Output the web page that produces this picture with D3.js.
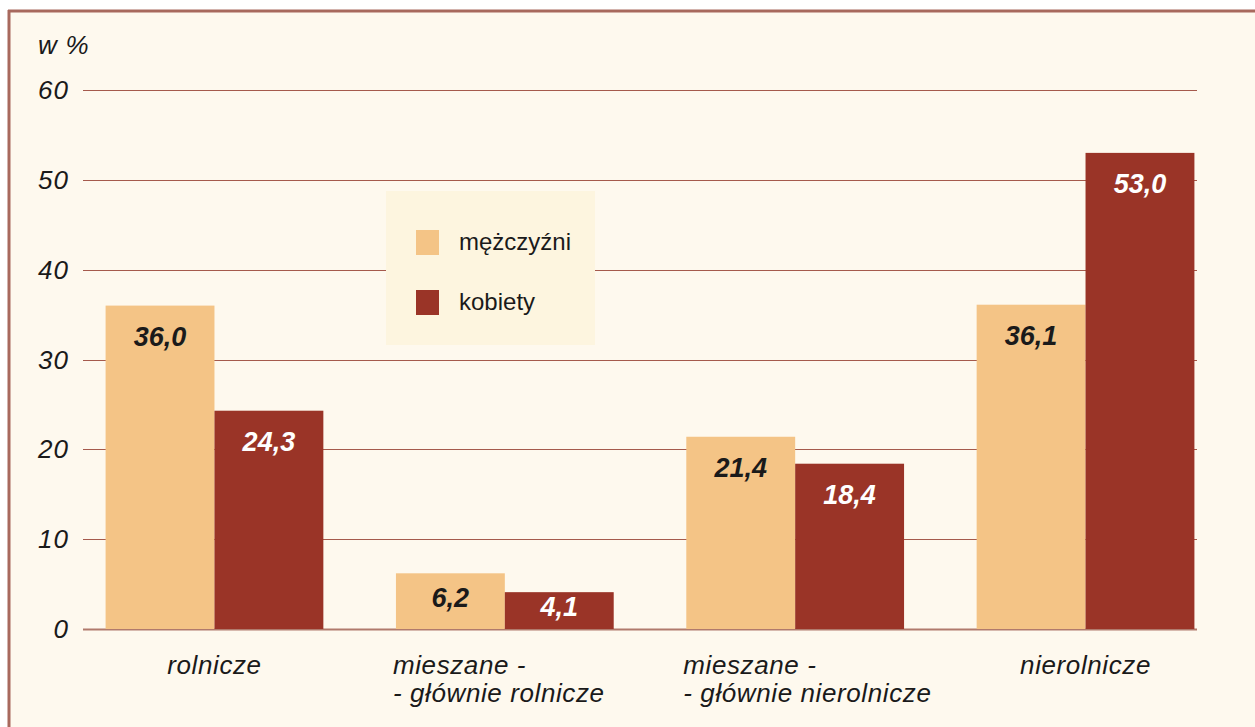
<!DOCTYPE html>
<html><head><meta charset="utf-8">
<script src="https://cdn.jsdelivr.net/npm/d3@7"></script>
<style>body{margin:0;background:#fff;}svg{display:block;font-family:"Liberation Sans",Arial,sans-serif;}</style>
</head><body><svg id="c" width="1255" height="727"></svg>
<script>
const categories = [["rolnicze"], ["mieszane -", "- głównie rolnicze"], ["mieszane -", "- głównie nierolnicze"], ["nierolnicze"]];
const seriesNames = ["mężczyźni", "kobiety"];
const men = [36.0, 6.2, 21.4, 36.1];
const women = [24.3, 4.1, 18.4, 53.0];
const yTicks = [0, 10, 20, 30, 40, 50, 60];
const labels = { men: ["36,0", "6,2", "21,4", "36,1"], women: ["24,3", "4,1", "18,4", "53,0"] };
const colors = ["#f4c486", "#9a3427"];

const svg = d3.select("#c");
// frame
svg.append("rect").attr("x", 9).attr("y", 11).attr("width", 1260).attr("height", 730).attr("fill", "#fef9ee");
svg.append("line").attr("x1", 8).attr("x2", 1255).attr("y1", 11).attr("y2", 11).attr("stroke", "#a8695d").attr("stroke-width", 3);
svg.append("line").attr("x1", 9).attr("x2", 9).attr("y1", 10).attr("y2", 727).attr("stroke", "#a8695d").attr("stroke-width", 3);

const y = d3.scaleLinear().domain([0, 60]).range([629, 90]);
const x0 = d3.scaleBand().domain(d3.range(4)).range([33, 1267]).paddingInner(0.25).paddingOuter(0.25);
const x1 = d3.scaleBand().domain([0, 1]).range([0, x0.bandwidth()]);

// gridlines
svg.append("g").selectAll("line").data(yTicks).join("line")
  .attr("x1", 83).attr("x2", 1197).attr("y1", d => Math.round(y(d)) + 0.5).attr("y2", d => Math.round(y(d)) + 0.5)
  .attr("stroke", d => d === 0 ? "#b07a6c" : "#a55a4c").attr("stroke-width", d => d === 0 ? 2 : 1);

// y tick labels
svg.append("g").selectAll("text").data(yTicks).join("text")
  .attr("x", 69).attr("y", d => y(d)).attr("dy", "0.35em").attr("text-anchor", "end")
  .attr("font-size", 26).attr("letter-spacing", 1).attr("font-style", "italic").attr("fill", "#1a1a1a").text(d => d);
svg.append("text").attr("x", 38).attr("y", 54).attr("font-size", 26).attr("letter-spacing", 0.8).attr("font-style", "italic").attr("fill", "#1a1a1a").text("w %");

// bars
const data = categories.map((c, i) => ({ i, vals: [men[i], women[i]], labs: [labels.men[i], labels.women[i]] }));
const g = svg.append("g").selectAll("g").data(data).join("g").attr("transform", d => `translate(${x0(d.i)},0)`);
g.selectAll("rect").data(d => d.vals.map((v, s) => ({ v, s }))).join("rect")
  .attr("x", d => x1(d.s)).attr("width", x1.bandwidth())
  .attr("y", d => y(d.v)).attr("height", d => y(0) - y(d.v)).attr("fill", d => colors[d.s]);
g.selectAll("text").data(d => d.vals.map((v, s) => ({ v, s, l: d.labs[s] }))).join("text")
  .attr("x", d => x1(d.s) + x1.bandwidth() / 2)
  .attr("y", d => { const h = y(0) - y(d.v); return h < 80 ? (y(d.v) + y(0)) / 2 - 4 : y(d.v) + 31; })
  .attr("dy", "0.35em").attr("text-anchor", "middle").attr("font-size", 27).attr("font-weight", "bold").attr("font-style", "italic")
  .attr("fill", d => d.s === 0 ? "#1a1a1a" : "#ffffff").text(d => d.l);

// category labels
categories.forEach((c, i) => {
  const t = svg.append("text").attr("font-size", 26).attr("letter-spacing", 0.6).attr("font-style", "italic").attr("fill", "#1a1a1a");
  if (c.length === 1) {
    t.attr("x", x0(i) + x0.bandwidth() / 2).attr("y", 674).attr("text-anchor", "middle").text(c[0]);
  } else {
    c.forEach((line, k) => t.append("tspan").attr("x", x0(i) - 3).attr("y", 674 + k * 28).text(line));
  }
});

// legend
const lg = svg.append("g");
lg.append("rect").attr("x", 386).attr("y", 191).attr("width", 209).attr("height", 154).attr("fill", "#fdf5df");
seriesNames.forEach((n, k) => {
  lg.append("rect").attr("x", 416).attr("y", 230 + k * 60).attr("width", 23).attr("height", 25).attr("fill", colors[k]);
  lg.append("text").attr("x", 459).attr("y", 242 + k * 60).attr("dy", "0.35em").attr("font-size", 24).attr("fill", "#1a1a1a").text(n);
});
</script></body></html>
